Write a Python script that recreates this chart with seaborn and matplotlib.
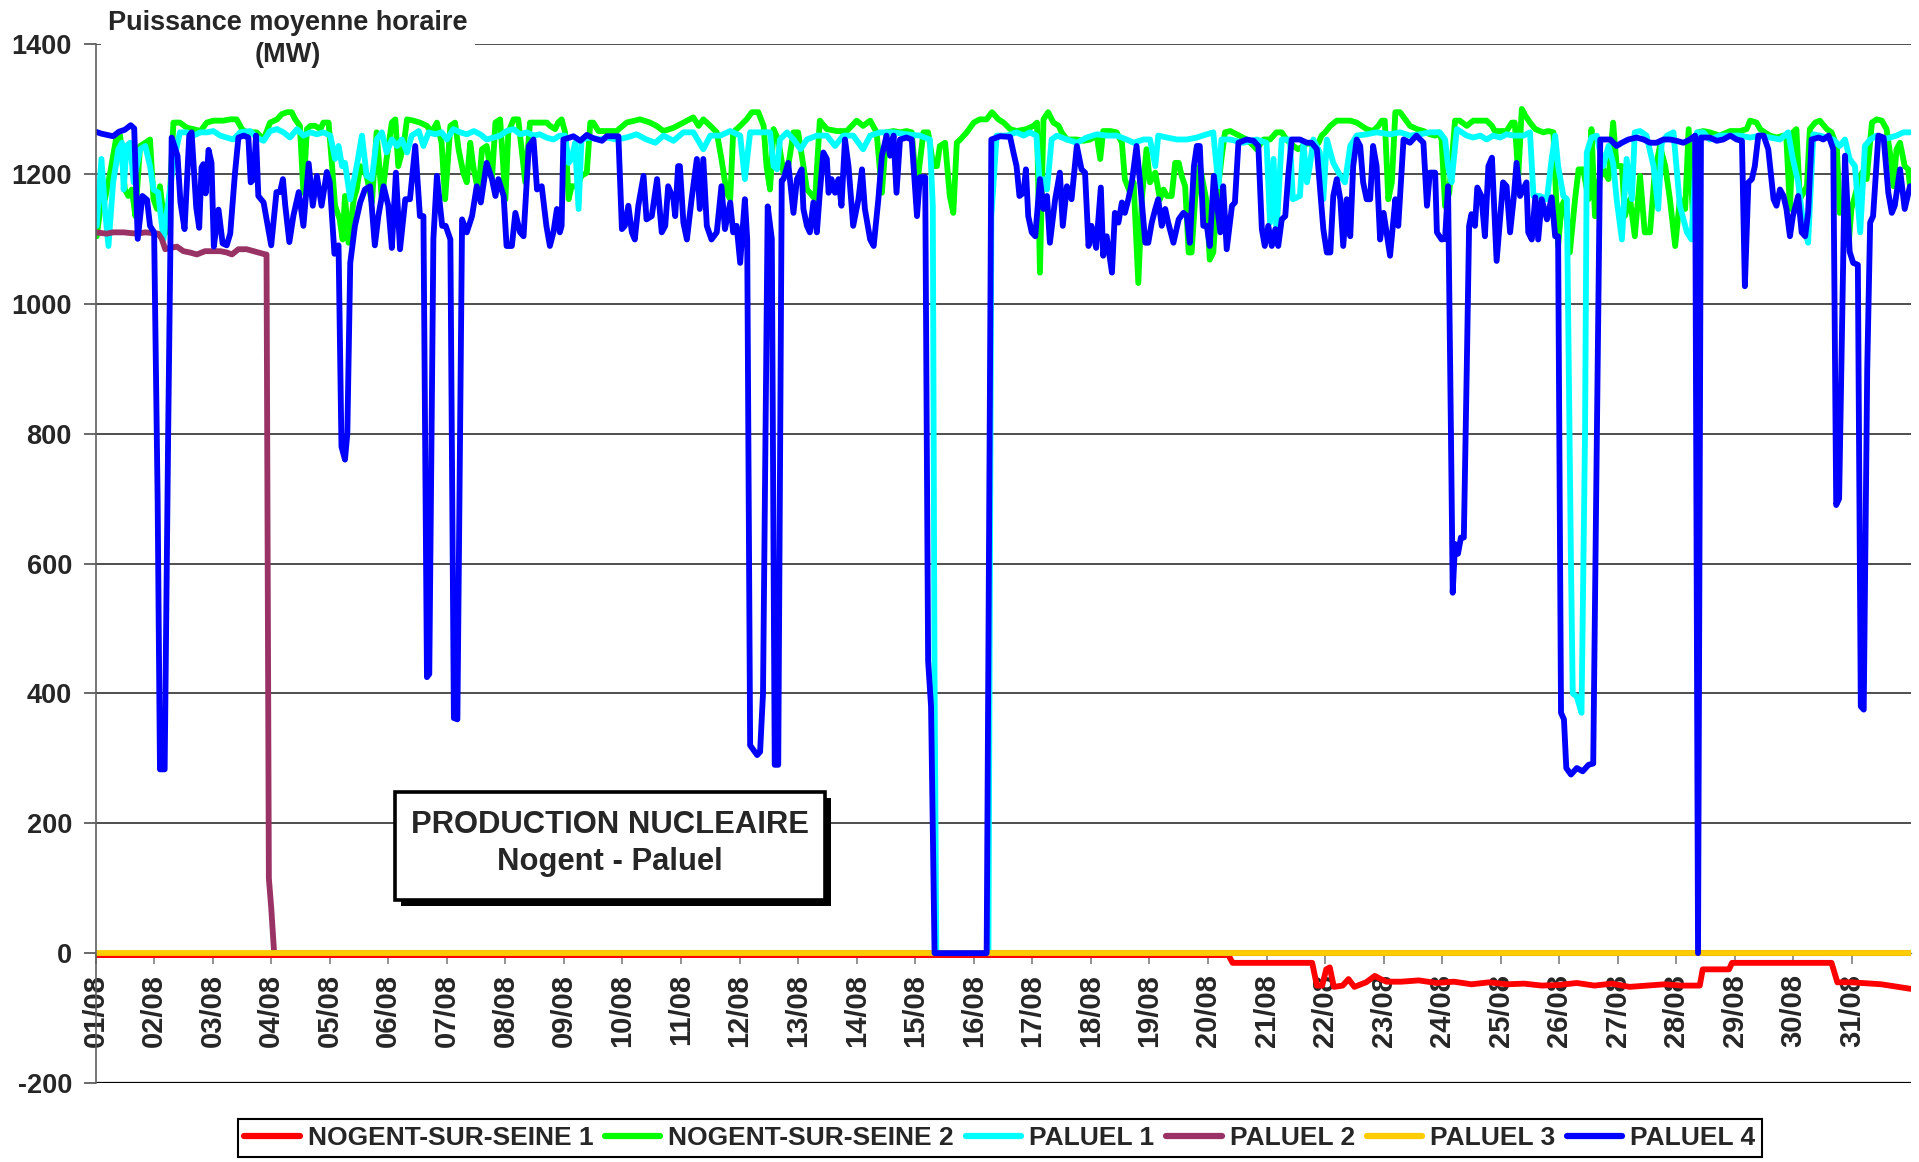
import numpy as np
import pandas as pd
import seaborn as sns
import matplotlib.pyplot as plt
from matplotlib.patches import Rectangle

# day index (0 = 01/08 00h) and hourly mean power (MW)
n1_jours = [0, 19.35, 19.42, 20.78, 20.86, 20.95, 21.02, 21.08, 21.15, 21.3, 21.4, 21.5, 21.7, 21.85,
            21.95, 22.05, 22.3, 22.6, 22.9, 23.2, 23.5, 23.8, 24.1, 24.4, 24.7, 25.0, 25.3, 25.6, 25.9,
            26.2, 26.5, 26.8, 27.1, 27.4, 27.45, 27.9, 27.95, 29.65, 29.75, 30.0, 30.5, 31.0]
n1_mw = [-3, -3, -15, -15, -50, -50, -25, -22, -52, -50, -40, -52, -45, -35,
         -40, -44, -44, -42, -46, -44, -48, -45, -48, -47, -50, -49, -46, -50, -47,
         -52, -50, -48, -50, -50, -25, -25, -15, -15, -45, -45, -48, -55]

n2_jours = [0.02, 0.08, 0.16, 0.25, 0.31, 0.36, 0.42, 0.5, 0.56, 0.62, 0.68, 0.76, 0.85, 0.93, 0.99,
            1.05, 1.1, 1.16, 1.24, 1.33, 1.44, 1.56, 1.67, 1.79, 1.9, 2.01, 2.18, 2.3, 2.41, 2.5, 2.58,
            2.67, 2.75, 2.87, 2.98, 3.1, 3.18, 3.27, 3.35, 3.41, 3.49, 3.55, 3.61, 3.67, 3.75, 3.84,
            3.89, 3.98, 4.04, 4.09, 4.17, 4.22, 4.26, 4.32, 4.41, 4.46, 4.52, 4.63, 4.72, 4.8, 4.89,
            4.97, 5.06, 5.12, 5.17, 5.26, 5.32, 5.43, 5.54, 5.66, 5.74, 5.83, 5.91, 5.97, 6.06, 6.14,
            6.2, 6.28, 6.34, 6.4, 6.45, 6.54, 6.6, 6.68, 6.77, 6.83, 6.91, 7.0, 7.05, 7.14, 7.22, 7.34,
            7.42, 7.54, 7.71, 7.76, 7.85, 7.9, 7.96, 8.02, 8.08, 8.13, 8.22, 8.3, 8.39, 8.45, 8.5,
            8.59, 8.73, 8.9, 9.07, 9.3, 9.47, 9.58, 9.7, 9.87, 10.04, 10.21, 10.3, 10.38, 10.5, 10.61,
            10.69, 10.78, 10.84, 10.89, 11.01, 11.12, 11.21, 11.32, 11.41, 11.46, 11.52, 11.58, 11.66,
            11.75, 11.83, 11.92, 12.0, 12.09, 12.15, 12.2, 12.29, 12.37, 12.49, 12.66, 12.83, 13.0,
            13.11, 13.23, 13.34, 13.43, 13.51, 13.63, 13.74, 13.85, 13.94, 13.99, 14.05, 14.14, 14.22,
            14.31, 14.37, 14.42, 14.51, 14.59, 14.65, 14.71, 14.77, 14.88, 15.0, 15.1, 15.22, 15.31,
            15.42, 15.51, 15.62, 15.73, 15.9, 16.02, 16.08, 16.13, 16.19, 16.27, 16.36, 16.45, 16.5,
            16.59, 16.76, 16.87, 16.99, 17.1, 17.16, 17.21, 17.33, 17.44, 17.53, 17.58, 17.67, 17.73,
            17.81, 17.87, 17.95, 18.01, 18.1, 18.18, 18.24, 18.3, 18.38, 18.44, 18.5, 18.55, 18.61,
            18.67, 18.72, 18.78, 18.86, 18.98, 19.03, 19.09, 19.15, 19.23, 19.29, 19.38, 19.49, 19.66,
            19.78, 19.83, 19.95, 20.06, 20.17, 20.26, 20.34, 20.46, 20.54, 20.63, 20.71, 20.8, 20.89,
            20.94, 21.0, 21.09, 21.2, 21.43, 21.54, 21.71, 21.82, 21.91, 21.97, 22.02, 22.08, 22.14,
            22.2, 22.28, 22.37, 22.45, 22.57, 22.68, 22.79, 22.88, 22.94, 22.99, 23.05, 23.12, 23.22,
            23.3, 23.42, 23.53, 23.76, 23.85, 23.9, 23.99, 24.1, 24.19, 24.24, 24.3, 24.36, 24.42,
            24.5, 24.59, 24.67, 24.73, 24.81, 24.9, 24.98, 25.04, 25.1, 25.18, 25.27, 25.33, 25.41,
            25.5, 25.55, 25.61, 25.67, 25.75, 25.84, 25.92, 25.98, 26.07, 26.12, 26.21, 26.29, 26.38,
            26.46, 26.55, 26.63, 26.72, 26.81, 26.89, 26.98, 27.06, 27.15, 27.21, 27.29, 27.37, 27.46,
            27.57, 27.74, 27.92, 28.09, 28.2, 28.26, 28.37, 28.43, 28.51, 28.6, 28.71, 28.83, 28.88,
            28.94, 28.99, 29.05, 29.11, 29.23, 29.28, 29.37, 29.45, 29.57, 29.65, 29.74, 29.79, 29.88,
            29.94, 29.99, 30.08, 30.17, 30.25, 30.34, 30.42, 30.51, 30.59, 30.68, 30.71, 30.76, 30.82,
            30.9, 30.96, 30.99]
n2_mw = [1104, 1146, 1161, 1202, 1233, 1259, 1259, 1176, 1166, 1176, 1135, 1243, 1248, 1253, 1161,
         1146, 1181, 1135, 1110, 1279, 1279, 1271, 1269, 1266, 1279, 1282, 1282, 1284, 1284, 1269, 1264,
         1264, 1264, 1253, 1279, 1284, 1292, 1295, 1295, 1284, 1274, 1171, 1269, 1274, 1274, 1269,
         1279, 1279, 1212, 1151, 1130, 1099, 1166, 1094, 1161, 1176, 1212, 1197, 1156, 1264, 1161,
         1223, 1279, 1284, 1212, 1243, 1284, 1282, 1279, 1274, 1264, 1279, 1248, 1161, 1274, 1279,
         1238, 1202, 1187, 1248, 1212, 1171, 1238, 1243, 1192, 1279, 1284, 1161, 1264, 1284, 1284, 1187,
         1279, 1279, 1279, 1274, 1269, 1279, 1284, 1264, 1161, 1181, 1181, 1197, 1202, 1279, 1279,
         1266, 1266, 1266, 1279, 1284, 1279, 1274, 1266, 1271, 1279, 1287, 1274, 1284, 1274, 1264,
         1223, 1171, 1161, 1264, 1274, 1284, 1295, 1295, 1274, 1212, 1176, 1269, 1253,
         1202, 1212, 1264, 1264, 1212, 1176, 1171, 1161, 1282, 1269, 1266, 1266, 1282,
         1274, 1282, 1264, 1171, 1264, 1266, 1264, 1266, 1264, 1212, 1197, 1264, 1264,
         1212, 1212, 1243, 1248, 1166, 1140, 1248, 1253, 1264, 1279, 1284, 1284, 1295,
         1284, 1279, 1269, 1266, 1269, 1274, 1279, 1048, 1284, 1295, 1279, 1274, 1264,
         1253, 1253, 1251, 1253, 1259, 1223, 1266, 1266, 1264, 1248, 1192, 1171, 1187,
         1032, 1161, 1238, 1187, 1202, 1161, 1176, 1166, 1166, 1217, 1217, 1197, 1181,
         1079, 1079, 1161, 1212, 1156, 1068, 1079, 1161, 1223, 1264, 1266, 1261, 1253,
         1243, 1238, 1253, 1253, 1264, 1264, 1253, 1243, 1238, 1243, 1248, 1243, 1248,
         1259, 1264, 1274, 1282, 1282, 1279, 1269, 1266, 1274, 1282, 1282, 1161, 1187,
         1295, 1295, 1284, 1274, 1269, 1266, 1261, 1259, 1264, 1253, 1150, 1171, 1282,
         1282, 1274, 1282, 1282, 1274, 1266, 1266, 1266, 1279, 1279, 1197, 1300, 1290,
         1279, 1269, 1266, 1264, 1266, 1264, 1089, 1151, 1161, 1079, 1161, 1207, 1207,
         1161, 1269, 1135, 1187, 1207, 1192, 1279, 1212, 1212, 1135, 1161, 1104, 1197,
         1110, 1110, 1202, 1243, 1212, 1161, 1089, 1161, 1146, 1269, 1120, 1264, 1266,
         1264, 1259, 1266, 1266, 1269, 1282, 1279, 1269, 1264, 1259, 1256, 1259, 1253,
         1146, 1264, 1269, 1161, 1181, 1269, 1279, 1282, 1269, 1264, 1243, 1140, 1146,
         1089, 1146, 1176, 1202, 1192, 1279, 1284, 1282, 1269, 1212, 1181, 1238, 1248,
         1212, 1207, 1181]

p1_jours = [0.02, 0.1, 0.16, 0.22, 0.3, 0.39, 0.45, 0.48, 0.53, 0.59, 0.65, 0.76, 0.85, 0.93, 0.99,
            1.07, 1.16, 1.24, 1.33, 1.44, 1.56, 1.67, 1.79, 1.9, 2.01, 2.13, 2.24, 2.35, 2.47, 2.64,
            2.75, 2.87, 2.98, 3.1, 3.21, 3.32, 3.44, 3.55, 3.67, 3.78, 3.89, 4.01, 4.09, 4.15, 4.21,
            4.26, 4.35, 4.46, 4.55, 4.63, 4.72, 4.8, 4.89, 4.97, 5.06, 5.15, 5.23, 5.32, 5.4, 5.52,
            5.6, 5.69, 5.8, 5.91, 6.0, 6.11, 6.23, 6.34, 6.46, 6.57, 6.68, 6.8, 6.91, 7.02, 7.14,
            7.25, 7.37, 7.48, 7.59, 7.7, 7.82, 7.93, 8.02, 8.08, 8.13, 8.19, 8.25, 8.3, 8.45, 8.62,
            8.73, 8.9, 9.07, 9.24, 9.41, 9.56, 9.7, 9.87, 10.04, 10.21, 10.38, 10.5, 10.67, 10.84,
            11.01, 11.09, 11.18, 11.35, 11.52, 11.58, 11.64, 11.69, 11.81, 11.92, 12.04, 12.15, 12.32,
            12.49, 12.63, 12.77, 12.94, 13.11, 13.23, 13.4, 13.63, 13.85, 14.08, 14.25, 14.3, 14.33,
            14.36, 15.25, 15.3, 15.39, 15.56, 15.73, 15.85, 15.96, 16.07, 16.13, 16.19, 16.25, 16.33,
            16.42, 16.59, 16.76, 16.93, 17.1, 17.27, 17.44, 17.61, 17.73, 17.9, 18.01, 18.1, 18.15,
            18.3, 18.47, 18.64, 18.81, 18.98, 19.09, 19.18, 19.23, 19.38, 19.6, 19.83, 20.0, 20.06,
            20.12, 20.17, 20.26, 20.4, 20.45, 20.57, 20.63, 20.69, 20.74, 20.8, 20.91, 20.97, 21.03,
            21.14, 21.26, 21.34, 21.43, 21.54, 21.71, 21.88, 22.11, 22.28, 22.45, 22.62, 22.79, 22.96,
            23.05, 23.1, 23.16, 23.25, 23.3, 23.42, 23.53, 23.65, 23.76, 23.87, 23.99, 24.1, 24.22,
            24.39, 24.5, 24.56, 24.67, 24.79, 24.87, 24.93, 24.98, 25.07, 25.13, 25.2, 25.23, 25.3,
            25.38, 25.44, 25.47, 25.55, 25.64, 25.75, 25.84, 25.92, 25.98, 26.07, 26.15, 26.24, 26.29,
            26.38, 26.49, 26.61, 26.69, 26.75, 26.84, 26.95, 27.06, 27.18, 27.26, 27.35, 27.46, 27.57,
            27.74, 27.92, 28.09, 28.26, 28.43, 28.6, 28.77, 28.91, 28.99, 29.08, 29.17, 29.25, 29.34,
            29.45, 29.57, 29.68, 29.79, 29.88, 29.96, 30.05, 30.14, 30.22, 30.31, 30.42, 30.54, 30.65,
            30.76, 30.88, 30.99]
p1_mw = [1120, 1223, 1146, 1089, 1187, 1238, 1248, 1176, 1243, 1248, 1187, 1238, 1243, 1212, 1176,
         1171, 1099, 1156, 1217, 1264, 1264, 1259, 1264, 1264, 1266, 1259, 1256, 1253, 1264, 1266,
         1256, 1251, 1266, 1269, 1264, 1256, 1269, 1259, 1264, 1261, 1264, 1259, 1223, 1243, 1212,
         1217, 1161, 1212, 1259, 1197, 1192, 1253, 1264, 1233, 1253, 1243, 1253, 1233, 1259, 1266,
         1243, 1264, 1261, 1264, 1253, 1269, 1264, 1261, 1266, 1261, 1253, 1256, 1259, 1266, 1269,
         1261, 1264, 1259, 1261, 1256, 1253, 1259, 1259, 1217, 1223, 1248, 1146, 1253, 1256, 1253,
         1256, 1253, 1256, 1261, 1253, 1248, 1259, 1251, 1264, 1264, 1238, 1259, 1259, 1266,
         1259, 1192, 1264, 1264, 1264, 1212, 1207, 1253, 1264, 1253, 1238, 1253, 1259,
         1259, 1243, 1259, 1259, 1238, 1259, 1264, 1264, 1261, 1259, 1253, 1150, 420,
         0, 0, 1135, 1259, 1259, 1264, 1259, 1264, 1259, 1181, 1192, 1176, 1253,
         1259, 1253, 1248, 1256, 1261, 1259, 1259, 1253, 1248, 1253, 1253, 1212, 1259,
         1256, 1253, 1253, 1256, 1261, 1264, 1181, 1253, 1253, 1248, 1253, 1248, 1125,
         1223, 1110, 1253, 1253, 1161, 1166, 1248, 1187, 1212, 1253, 1233, 1161, 1253,
         1217, 1197, 1187, 1243, 1259, 1261, 1264, 1261, 1264, 1259, 1261, 1264, 1264,
         1253, 1212, 1187, 1269, 1266, 1259, 1256, 1259, 1253, 1259, 1256, 1261, 1259,
         1259, 1264, 1166, 1166, 1161, 1223, 1259, 1212, 1166, 1161, 600, 400, 395,
         370, 800, 1233, 1256, 1259, 1212, 1243, 1217, 1161, 1099, 1223, 1161, 1264,
         1266, 1259, 1212, 1146, 1248, 1259, 1264, 1151, 1110, 1099, 1264, 1264, 1253,
         1259, 1259, 1259, 1256, 1259, 1256, 1253, 1264, 1223, 1187, 1120, 1094, 1261,
         1259, 1256, 1253, 1243, 1253, 1223, 1212, 1110, 1243, 1253, 1259, 1253, 1256,
         1259, 1264, 1264]

p2_jours = [0, 0.19, 0.3, 0.48, 0.7, 0.85, 1.07, 1.13, 1.19, 1.27, 1.39, 1.5, 1.61, 1.73, 1.87, 2.13,
            2.24, 2.33, 2.44, 2.58, 2.7, 2.9, 2.92, 2.96, 3.0, 3.05, 31.0]
p2_mw = [1110, 1108, 1110, 1110, 1108, 1110, 1108, 1100, 1084, 1086, 1088, 1081, 1079, 1076, 1081, 1081,
         1079, 1076, 1084, 1084, 1081, 1076, 1076, 115, 70, 0, 0]

p3_jours = [0, 31.0]
p3_mw = [0, 0]

p4_jours = [0.0, 0.1, 0.2, 0.3, 0.4, 0.5, 0.6, 0.66, 0.72, 0.8, 0.88, 0.93, 1.0, 1.06, 1.1, 1.18, 1.24,
            1.3, 1.4, 1.45, 1.52, 1.6, 1.64, 1.72, 1.77, 1.81, 1.84, 1.88, 1.93, 1.98, 2.02, 2.1, 2.17,
            2.24, 2.3, 2.38, 2.44, 2.53, 2.61, 2.65, 2.7, 2.74, 2.78, 2.87, 2.95, 3.0, 3.09, 3.15, 3.2,
            3.24, 3.31, 3.38, 3.47, 3.55, 3.64, 3.71, 3.78, 3.86, 3.95, 4.0, 4.08, 4.15, 4.2, 4.26, 4.3,
            4.35, 4.43, 4.52, 4.6, 4.69, 4.77, 4.83, 4.92, 5.0, 5.06, 5.13, 5.2, 5.29, 5.37, 5.46, 5.54,
            5.6, 5.66, 5.7, 5.77, 5.83, 5.92, 5.98, 6.06, 6.12, 6.18, 6.26, 6.34, 6.43, 6.51, 6.58, 6.68,
            6.77, 6.83, 6.88, 6.97, 7.02, 7.11, 7.17, 7.25, 7.31, 7.4, 7.48, 7.54, 7.62, 7.7, 7.76, 7.82,
            7.88, 7.93, 7.96, 7.99, 8.1, 8.16, 8.28, 8.39, 8.5, 8.65, 8.73, 8.93, 8.99, 9.04, 9.1, 9.16,
            9.21, 9.27, 9.36, 9.41, 9.5, 9.59, 9.67, 9.73, 9.78, 9.87, 9.9, 9.95, 9.98, 10.04, 10.1,
            10.18, 10.27, 10.32, 10.38, 10.44, 10.52, 10.61, 10.69, 10.75, 10.84, 10.89, 10.95, 11.01,
            11.09, 11.13, 11.18, 11.3, 11.35, 11.4, 11.48, 11.55, 11.6, 11.66, 11.72, 11.75, 11.83,
            11.92, 11.98, 12.06, 12.09, 12.15, 12.2, 12.26, 12.32, 12.37, 12.43, 12.49, 12.52, 12.57,
            12.63, 12.69, 12.74, 12.8, 12.86, 12.94, 13.03, 13.09, 13.14, 13.23, 13.29, 13.37, 13.43,
            13.51, 13.57, 13.63, 13.68, 13.74, 13.85, 13.94, 14.03, 14.08, 14.17, 14.22, 14.27, 14.33,
            15.22, 15.3, 15.45, 15.62, 15.68, 15.73, 15.78, 15.85, 15.89, 15.93, 15.99, 16.05, 16.13,
            16.19, 16.25, 16.3, 16.39, 16.47, 16.52, 16.59, 16.67, 16.76, 16.84, 16.9, 16.96, 17.01,
            17.09, 17.17, 17.21, 17.27, 17.36, 17.41, 17.47, 17.53, 17.58, 17.64, 17.7, 17.78, 17.84,
            17.93, 17.98, 18.04, 18.1, 18.15, 18.21, 18.27, 18.32, 18.41, 18.5, 18.58, 18.64, 18.69,
            18.76, 18.81, 18.86, 18.92, 18.98, 19.03, 19.1, 19.21, 19.26, 19.32, 19.41, 19.46, 19.52,
            19.66, 19.78, 19.86, 19.92, 19.97, 20.03, 20.09, 20.15, 20.2, 20.26, 20.32, 20.37, 20.43,
            20.57, 20.69, 20.77, 20.86, 20.97, 21.03, 21.09, 21.14, 21.2, 21.26, 21.31, 21.37, 21.43,
            21.48, 21.54, 21.6, 21.65, 21.71, 21.77, 21.82, 21.88, 21.94, 22.0, 22.11, 22.2, 22.25,
            22.34, 22.45, 22.56, 22.68, 22.74, 22.79, 22.88, 22.91, 22.99, 23.05, 23.1, 23.15, 23.18,
            23.22, 23.27, 23.32, 23.37, 23.42, 23.46, 23.5, 23.56, 23.6, 23.67, 23.73, 23.79, 23.85,
            23.93, 24.04, 24.1, 24.16, 24.22, 24.27, 24.33, 24.44, 24.47, 24.53, 24.59, 24.64, 24.7,
            24.79, 24.87, 24.93, 24.98, 25.03, 25.08, 25.12, 25.2, 25.3, 25.4, 25.5, 25.58, 25.63,
            25.7, 25.87, 25.98, 26.07, 26.18, 26.32, 26.44, 26.55, 26.66, 26.78, 26.89, 27.0, 27.12,
            27.23, 27.32, 27.37, 27.42, 27.57, 27.69, 27.8, 27.92, 28.03, 28.12, 28.17, 28.23, 28.29,
            28.34, 28.4, 28.49, 28.57, 28.66, 28.71, 28.77, 28.83, 28.88, 28.94, 28.99, 29.08, 29.14,
            29.2, 29.25, 29.31, 29.43, 29.51, 29.6, 29.68, 29.73, 29.78, 29.88, 29.96, 30.02, 30.1,
            30.15, 30.2, 30.26, 30.31, 30.36, 30.45, 30.54, 30.62, 30.68, 30.73, 30.82, 30.9, 30.99]
p4_mw = [1265, 1262, 1260, 1258, 1265, 1268, 1275, 1270, 1100, 1166, 1160, 1120, 1110, 700, 283, 283, 800,
         1256, 1228, 1156, 1115, 1259, 1264, 1148, 1117, 1210, 1215, 1170, 1237, 1217, 1088, 1145, 1093,
         1090, 1108, 1200, 1256, 1259, 1256, 1187, 1192, 1259, 1166, 1156, 1115, 1090, 1172, 1172, 1192,
         1151, 1095, 1136, 1172, 1120, 1216, 1151, 1197, 1151, 1203, 1187, 1077, 1090, 780, 760, 800,
         1063, 1120, 1156, 1176, 1181, 1090, 1135, 1181, 1151, 1086, 1202, 1084, 1161, 1161, 1243, 1135,
         1135, 425, 430, 1100, 1197, 1120, 1120, 1099, 362, 360, 1130, 1110, 1135, 1181, 1156, 1217,
         1192, 1166, 1192, 1166, 1089, 1089, 1140, 1110, 1104, 1243, 1253, 1176, 1181, 1120, 1089, 1110,
         1146, 1110, 1120, 1253, 1256, 1258, 1251, 1260, 1255, 1251, 1258, 1258, 1115, 1120, 1151, 1110,
         1099, 1151, 1197, 1130, 1135, 1192, 1110, 1120, 1181, 1161, 1135, 1212, 1212, 1125, 1099,
         1161, 1223, 1146, 1223, 1120, 1099, 1110, 1181, 1115, 1156, 1110, 1120, 1063,
         1161, 1099, 320, 305, 310, 400, 1150, 1100, 290, 290, 1190, 1192, 1217,
         1140, 1192, 1207, 1146, 1120, 1110, 1156, 1110, 1171, 1233, 1223, 1171, 1192,
         1171, 1192, 1151, 1253, 1212, 1120, 1161, 1207, 1146, 1099, 1089, 1161, 1228,
         1259, 1228, 1259, 1171, 1253, 1256, 1253, 1135, 1195, 1195, 450, 380, 0,
         0, 1253, 1258, 1257, 1232, 1212, 1166, 1171, 1207, 1135, 1110, 1104, 1192,
         1146, 1166, 1094, 1161, 1202, 1120, 1181, 1161, 1243, 1207, 1202, 1089, 1120,
         1086, 1179, 1074, 1104, 1048, 1140, 1125, 1156, 1140, 1161, 1187, 1243, 1187,
         1094, 1094, 1125, 1146, 1161, 1120, 1146, 1125, 1094, 1130, 1140, 1135, 1094,
         1212, 1243, 1243, 1120, 1120, 1089, 1197, 1110, 1181, 1084, 1151, 1156, 1248,
         1253, 1251, 1243, 1115, 1089, 1120, 1089, 1115, 1089, 1130, 1135, 1197, 1253,
         1253, 1248, 1248, 1238, 1115, 1079, 1079, 1166, 1192, 1161, 1089, 1161, 1104,
         1212, 1253, 1243, 1187, 1161, 1161, 1243, 1212, 1099, 1140, 1074, 1161, 1120,
         1253, 1248, 1259, 1248, 1151, 1202, 1202, 1110, 1099, 1100, 1181, 800, 555,
         630, 615, 640, 640, 900, 1120, 1138, 1120, 1179, 1166, 1104, 1212, 1225,
         1066, 1187, 1181, 1110, 1161, 1217, 1166, 1187, 1110, 1099, 1164, 1099, 1161,
         1130, 1164, 1104, 1104, 370, 360, 285, 275, 285, 280, 290, 292, 700,
         1253, 1253, 1243, 1248, 1253, 1256, 1253, 1248, 1248, 1253, 1253, 1251, 1248,
         1253, 1259, 0, 1256, 1256, 1251, 1253, 1259, 1253, 1251, 1027, 1187, 1192,
         1212, 1259, 1259, 1238, 1161, 1151, 1176, 1166, 1146, 1104, 1135, 1166, 1110,
         1104, 1140, 1253, 1256, 1253, 1259, 1238, 690, 700, 1228, 1080, 1063, 1060,
         380, 375, 900, 1125, 1135, 1259, 1256, 1171, 1140, 1151, 1207, 1146, 1181]

tranches = ['NOGENT-SUR-SEINE 1', 'NOGENT-SUR-SEINE 2', 'PALUEL 1', 'PALUEL 2', 'PALUEL 3', 'PALUEL 4']
couleurs = ['#FF0000', '#00FF00', '#00FFFF', '#993366', '#FFCC00', '#0000FF']
dates = ['%02d/08' % j for j in range(1, 32)]

series = [(n1_jours, n1_mw), (n2_jours, n2_mw), (p1_jours, p1_mw),
          (p2_jours, p2_mw), (p3_jours, p3_mw), (p4_jours, p4_mw)]
frames = []
for nom, (jours, mw) in zip(tranches, series):
    frames.append(pd.DataFrame({'jour': jours, 'mw': mw, 'tranche': nom}))
df = pd.concat(frames, ignore_index=True)

sns.set_style('white')
plt.rcParams['font.family'] = ['Liberation Sans', 'DejaVu Sans']
plt.rcParams['font.weight'] = 'bold'
plt.rcParams['axes.unicode_minus'] = False

fig = plt.figure(figsize=(19.19, 11.62), dpi=100)
ax = fig.add_axes([0.0498, 0.068, 0.9458, 0.8941])

sns.lineplot(data=df, x='jour', y='mw', hue='tranche', hue_order=tranches,
             palette=dict(zip(tranches, couleurs)), estimator=None, sort=False,
             lw=4.2, ax=ax)

# axe des dates qui passe par 0 (a faire avant les ticks, set_position les remet a zero)
for s in ['top', 'right']:
    ax.spines[s].set_visible(False)
ax.spines['bottom'].set_position(('data', 0))
ax.spines['bottom'].set_color('#808080')
ax.spines['bottom'].set_linewidth(1.0)
ax.spines['bottom'].set_zorder(1)
ax.spines['left'].set_color('#606060')
ax.spines['left'].set_linewidth(1.2)

ax.set_xlim(0, 31)
ax.set_ylim(-200, 1400)
ax.set_yticks(range(-200, 1401, 200))
ax.set_yticklabels([str(v) for v in range(-200, 1401, 200)], fontsize=19.5, fontweight='bold')
ax.set_xticks(range(31))
ax.set_xticklabels(dates, rotation=90, fontsize=21, fontweight='bold')
ax.tick_params(axis='y', length=9, width=1.2, color='#505050', pad=8, left=True)
ax.tick_params(axis='x', length=8, width=1.2, color='#808080', pad=7, bottom=True)
ax.set_xlabel('')
ax.set_ylabel('')
ax.grid(axis='y', color='#404040', lw=1.3)
ax.grid(axis='x', visible=False)
ax.set_axisbelow(True)
ax.axhline(-200, color='black', lw=1.6, zorder=1)

# titre de l'axe, sur fond blanc
fig.text(288 / 1919, 1 - 39 / 1162, 'Puissance moyenne horaire\n(MW)', ha='center', va='center',
         fontsize=19.5, fontweight='bold', linespacing=1.35,
         bbox=dict(boxstyle='square,pad=0.25', fc='white', ec='none'))

# cartouche avec ombre
bx, by, bw, bh = 395 / 1919, 1 - 900 / 1162, 430 / 1919, 108 / 1162
fig.add_artist(Rectangle((bx + 6 / 1919, by - 6 / 1162), bw, bh, transform=fig.transFigure,
                         fc='black', ec='black', lw=0, zorder=5))
fig.add_artist(Rectangle((bx, by), bw, bh, transform=fig.transFigure,
                         fc='white', ec='black', lw=2.6, zorder=6))
fig.text(bx + bw / 2, 1 - 833 / 1162, 'PRODUCTION NUCLEAIRE', ha='center', va='baseline',
         fontsize=22.3, fontweight='bold', zorder=7)
fig.text(bx + bw / 2, 1 - 870 / 1162, 'Nogent - Paluel', ha='center', va='baseline',
         fontsize=22.3, fontweight='bold', zorder=7)

handles, labels = ax.get_legend_handles_labels()
if ax.legend_ is not None:
    ax.legend_.remove()
leg = fig.legend(handles, labels, ncol=6, loc='center', bbox_to_anchor=(0.521, 0.0207),
                 frameon=True, fancybox=False, edgecolor='black', framealpha=1,
                 prop={'size': 19, 'weight': 'bold'}, handlelength=2.1, handletextpad=0.3,
                 columnspacing=0.45, borderpad=0.25)
leg.get_frame().set_linewidth(1.5)
for h in leg.get_lines():
    h.set_linewidth(4.5)

fig.savefig('out.png', dpi=100)
